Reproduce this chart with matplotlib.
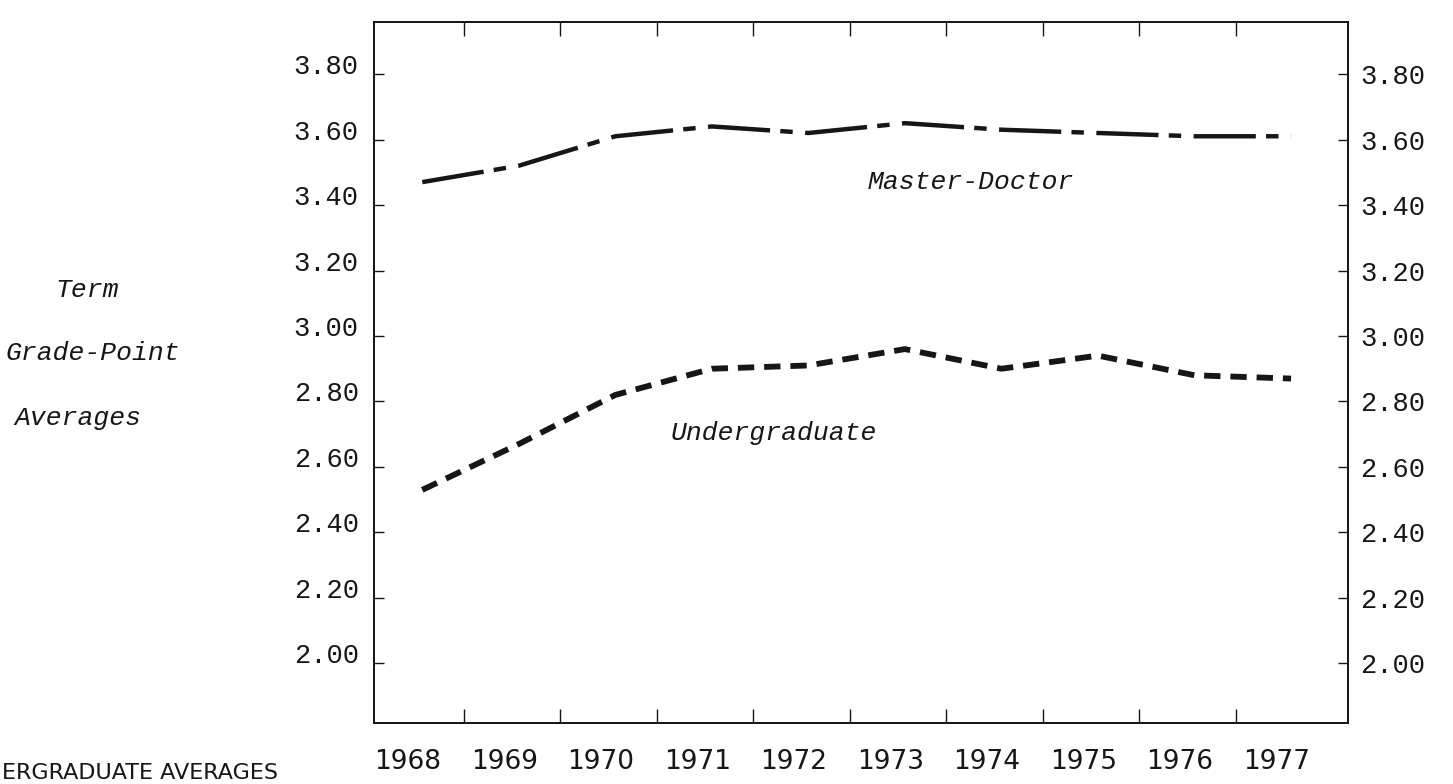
# Term grade-point averages, master-doctor vs undergraduate, 1968-1977

import numpy as np
import matplotlib.pyplot as plt

years = np.arange(1968, 1978)
year_labels = [str(y) for y in years]
master_doctor = [3.47, 3.52, 3.61, 3.64, 3.62, 3.65, 3.63, 3.62, 3.61, 3.61]
undergraduate = [2.53, 2.67, 2.82, 2.90, 2.91, 2.96, 2.90, 2.94, 2.88, 2.87]
gpa_ticks = [2.00, 2.20, 2.40, 2.60, 2.80, 3.00, 3.20, 3.40, 3.60, 3.80]
gpa_labels = ["%.2f" % v for v in gpa_ticks]

W, H = 1453, 784
ink = "#161616"
mono = "Liberation Mono"

fig = plt.figure(figsize=(W / 100, H / 100), dpi=100)
ax = fig.add_axes([374 / W, 1 - 723 / H, (1348 - 374) / W, (723 - 22) / H])

ax.plot(years, master_doctor, color=ink, lw=3.2,
        linestyle=(0, (14.0, 2.3, 2.8, 2.8)), dash_capstyle="butt")
ax.plot(years, undergraduate, color=ink, lw=4.2,
        linestyle=(0, (2.8, 1.7)), dash_capstyle="butt")

ax.set_xlim(1967.50, 1977.59)
ax.set_ylim(1.818, 3.959)

# year labels sit a little left of the data points, tick marks between years
ax.set_xticks(years - 0.15)
ax.set_xticklabels(year_labels, fontsize=19, family="DejaVu Sans", color=ink)
ax.set_xticks(years[:-1] + 0.43, minor=True)
ax.tick_params(axis="x", which="major", length=0, pad=19)
ax.tick_params(axis="x", which="minor", direction="in", length=10, width=1.0,
               top=True, bottom=True, color=ink)

ax.set_yticks(gpa_ticks)
ax.set_yticklabels(gpa_labels, fontsize=19.5, family=mono, color=ink)
ax.tick_params(axis="y", direction="in", length=7, width=1.0, pad=11, color=ink)
for lbl in ax.get_yticklabels():
    lbl.set_va("baseline")

ax2 = ax.twinx()
ax2.set_ylim(ax.get_ylim())
ax2.set_yticks(gpa_ticks)
ax2.set_yticklabels(gpa_labels, fontsize=19.5, family=mono, color=ink)
ax2.tick_params(axis="y", direction="in", length=7, width=1.0, pad=9, color=ink)

for a in (ax, ax2):
    for s in a.spines.values():
        s.set_linewidth(1.3)
        s.set_color(ink)

ax.text(1972.61, 3.47, "Master-Doctor", fontsize=19, family=mono,
        style="italic", color=ink, va="center", ha="left")
ax.text(1970.57, 2.704, "Undergraduate", fontsize=19, family=mono,
        style="italic", color=ink, va="center", ha="left")

for txt, x, y in [("Term", 87, 290), ("Grade-Point", 93, 353), ("Averages", 78, 418)]:
    fig.text(x / W, 1 - y / H, txt, fontsize=19, family=mono, style="italic",
             color=ink, ha="center", va="center")

# caption cut off at the page edge in the scan
fig.text(2 / W, 1 - 779 / H, "ERGRADUATE AVERAGES", fontsize=16, family="DejaVu Sans",
         color=ink, ha="left", va="baseline")

fig.savefig("out.png", dpi=100, facecolor="white")
